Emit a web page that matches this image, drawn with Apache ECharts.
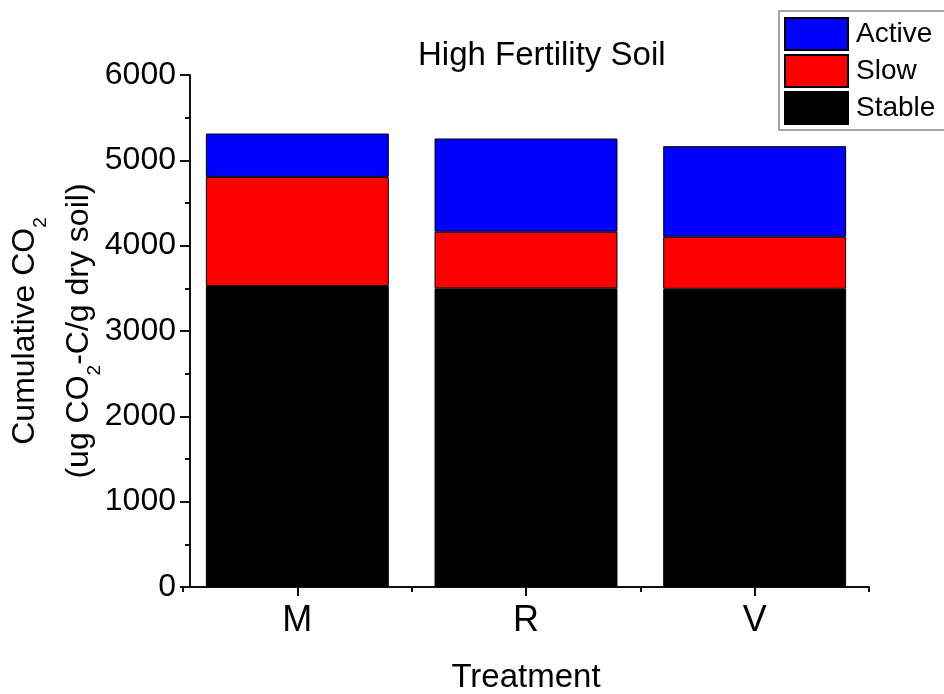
<!DOCTYPE html>
<html>
<head>
<meta charset="utf-8">
<script src="https://cdn.jsdelivr.net/npm/echarts@6/dist/echarts.min.js"></script>
<style>html,body{margin:0;padding:0;background:#fff}#c{width:944px;height:694px}</style>
</head>
<body>
<div id="c"></div>
<script>
const categories = ['M', 'R', 'V'];
const stableValues = [3527, 3500, 3495];
const slowValues = [1279, 663, 609];
const activeValues = [508, 1093, 1062];
const yTicks = [0, 1000, 2000, 3000, 4000, 5000, 6000];

const FONT = 'Liberation Sans';
const chart = echarts.init(document.getElementById('c'), null, {renderer: 'canvas'});
const axisColor = '#111';

const option = {
  backgroundColor: '#fff',
  animation: false,
  textStyle: {fontFamily: FONT},
  title: {
    text: 'High Fertility Soil',
    left: 418,
    top: 39,
    padding: 0,
    textStyle: {fontFamily: FONT, fontSize: 33, fontWeight: 'normal', color: '#000'}
  },
  legend: {
    data: ['Active', 'Slow', 'Stable'],
    orient: 'vertical',
    left: 779,
    top: 11,
    padding: [6, 14, 5, 5],
    itemGap: 3,
    itemWidth: 63,
    itemHeight: 32,
    borderColor: '#888',
    borderWidth: 1.5,
    borderRadius: 0,
    icon: 'rect',
    textStyle: {fontFamily: FONT, fontSize: 28, color: '#000', padding: [0, 0, 0, 3]}
  },
  grid: {left: 183, right: 75, top: 75, bottom: 107, containLabel: false, outerBoundsMode: 'none'},
  xAxis: [{
    type: 'category',
    data: categories,
    position: 'bottom',
    boundaryGap: true,
    axisLine: {show: true, lineStyle: {color: axisColor, width: 2}},
    axisTick: {show: true, alignWithLabel: true, length: 9, lineStyle: {color: axisColor, width: 2}},
    axisLabel: {fontFamily: FONT, fontSize: 36, color: '#000', margin: 16},
    name: 'Treatment',
    nameLocation: 'middle',
    nameGap: 74,
    nameMoveOverlap: false,
    nameTextStyle: {fontFamily: FONT, fontSize: 33, color: '#000'}
  }, {
    type: 'category',
    data: categories,
    position: 'bottom',
    boundaryGap: true,
    axisLine: {show: false},
    axisTick: {show: true, length: 5, lineStyle: {color: axisColor, width: 2}},
    axisLabel: {show: false}
  }],
  yAxis: {
    type: 'value',
    min: 0,
    max: 6000,
    interval: 1000,
    offset: -7,
    axisLine: {show: true, lineStyle: {color: axisColor, width: 2}},
    axisTick: {show: true, length: 10, lineStyle: {color: axisColor, width: 2}},
    minorTick: {show: true, splitNumber: 2, length: 5, lineStyle: {color: axisColor, width: 2}},
    splitLine: {show: false},
    axisLabel: {
      fontFamily: FONT, fontSize: 32, color: '#000', margin: 14,
      formatter: function (v) { return yTicks.indexOf(v) >= 0 ? String(v) : ''; }
    },
    name: '{a|Cumulative CO}{s|2}\n{a|(ug CO}{s|2}{a|-C/g dry soil)}',
    nameLocation: 'middle',
    nameGap: 84,
    nameMoveOverlap: false,
    nameRotate: 90,
    nameTextStyle: {
      fontFamily: FONT,
      color: '#000',
      rich: {
        a: {fontFamily: FONT, fontSize: 32, lineHeight: 54, color: '#000'},
        s: {fontFamily: FONT, fontSize: 19, lineHeight: 54, color: '#000', padding: [32, 0, 0, 0]}
      }
    }
  },
  series: [{
    name: 'Stable',
    type: 'bar',
    stack: 'total',
    barWidth: '80%',
    data: stableValues,
    itemStyle: {color: '#000000', borderColor: '#000', borderWidth: 1}
  }, {
    name: 'Slow',
    type: 'bar',
    stack: 'total',
    data: slowValues,
    itemStyle: {color: '#ff0000', borderColor: '#000', borderWidth: 1}
  }, {
    name: 'Active',
    type: 'bar',
    stack: 'total',
    data: activeValues,
    itemStyle: {color: '#0000ff', borderColor: '#000', borderWidth: 1}
  }]
};
chart.setOption(option);
</script>
</body>
</html>
